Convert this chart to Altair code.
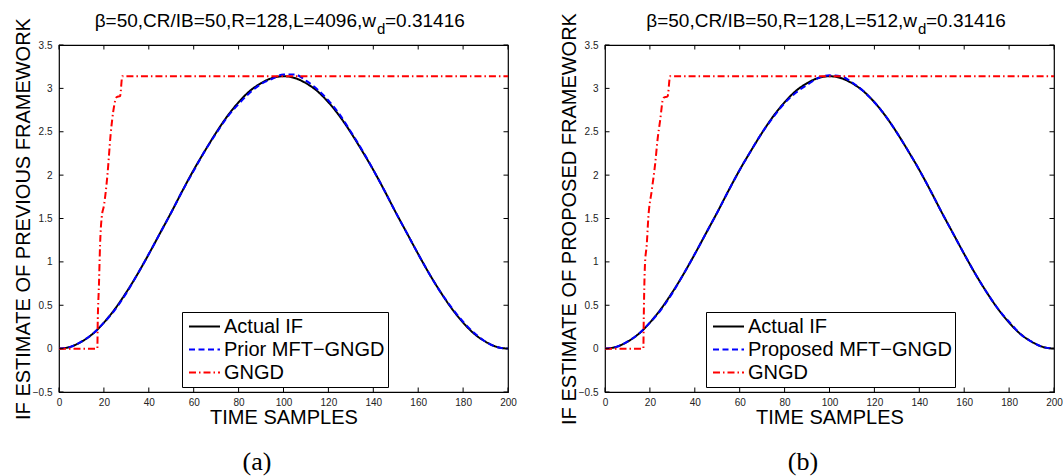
import altair as alt
import pandas as pd

# ---------------- data ----------------
time_grid = [0, 5, 10, 15, 20, 25, 30, 35, 40, 45, 50, 55, 60, 65, 70, 75, 80, 85, 90, 95,
             100, 105, 110, 115, 120, 125, 130, 135, 140, 145, 150, 155, 160, 165, 170, 175,
             180, 185, 190, 195, 200]
actual_if = [0.00, 0.02, 0.08, 0.17, 0.30, 0.46, 0.65, 0.86, 1.09, 1.33, 1.57, 1.82, 2.06,
             2.28, 2.49, 2.68, 2.84, 2.97, 3.06, 3.12, 3.14, 3.12, 3.06, 2.97, 2.84, 2.68,
             2.49, 2.28, 2.06, 1.82, 1.57, 1.33, 1.09, 0.86, 0.65, 0.46, 0.30, 0.17, 0.08,
             0.02, 0.00]
prior_est = [0.00, 0.02, 0.08, 0.17, 0.30, 0.45, 0.64, 0.86, 1.09, 1.33, 1.57, 1.82, 2.05,
             2.28, 2.48, 2.67, 2.82, 2.95, 3.05, 3.11, 3.16, 3.16, 3.09, 2.99, 2.86, 2.70,
             2.50, 2.29, 2.06, 1.82, 1.57, 1.33, 1.09, 0.86, 0.65, 0.47, 0.31, 0.18, 0.08,
             0.02, 0.00]
proposed_est = [0.00, 0.02, 0.08, 0.17, 0.30, 0.45, 0.64, 0.86, 1.09, 1.33, 1.57, 1.82, 2.06,
                2.28, 2.49, 2.67, 2.83, 2.95, 3.04, 3.12, 3.15, 3.14, 3.07, 2.97, 2.84, 2.68,
                2.49, 2.28, 2.06, 1.82, 1.57, 1.33, 1.09, 0.86, 0.65, 0.46, 0.31, 0.17, 0.08,
                0.02, 0.00]
gngd_a_t = [0, 17.1, 17.2, 17.8, 18.3, 19.0, 20.1, 21.6, 23.0, 24.2, 25.7, 27.2, 28.2, 200]
gngd_a_v = [0.00, 0.00, 0.22, 0.74, 1.20, 1.51, 1.66, 2.01, 2.47, 2.74, 2.90, 2.91, 3.14, 3.14]
gngd_b_t = [0, 17.1, 17.2, 17.8, 18.6, 19.3, 20.8, 22.3, 23.5, 24.5, 26.0, 27.9, 29.0, 200]
gngd_b_v = [0.00, 0.00, 0.22, 0.97, 1.20, 1.51, 1.82, 2.12, 2.43, 2.62, 2.89, 2.91, 3.14, 3.14]

x_ticks = [0, 20, 40, 60, 80, 100, 120, 140, 160, 180, 200]
y_ticks = [-0.5, 0, 0.5, 1, 1.5, 2, 2.5, 3, 3.5]

W, H = 449, 347
FONT = "Liberation Sans"
TL = 4.5  # inward tick length (px)


def panel(ytitle, est_name, est_vals, red_t, red_v, title_main, anchor, caption, legend_x):
    names = ["Actual IF", est_name, "GNGD"]
    df = pd.concat([
        pd.DataFrame({"t": time_grid, "v": actual_if, "s": names[0]}),
        pd.DataFrame({"t": time_grid, "v": est_vals, "s": names[1]}),
        pd.DataFrame({"t": red_t, "v": red_v, "s": names[2]}),
    ], ignore_index=True)

    xs = alt.Scale(domain=[0, 200], nice=False, zero=False)
    ys = alt.Scale(domain=[-0.5, 3.5], nice=False, zero=False)

    leg = dict(orient="none", legendX=legend_x, legendY=267, title=None,
               symbolType="stroke", symbolSize=961, symbolStrokeWidth=2,
               clipHeight=23, rowPadding=0, padding=3, symbolOffset=3,
               labelFont=FONT, labelFontSize=20, labelColor="black", labelLimit=500,
               labelOffset=3, strokeColor="black", fillColor="white", cornerRadius=0)

    lines = alt.Chart(df).mark_line(strokeWidth=2, interpolate="monotone").encode(
        x=alt.X("t:Q", scale=xs, axis=alt.Axis(
            values=x_ticks, ticks=False, domain=False, grid=False, labelPadding=5,
            labelFont=FONT, labelFontSize=10, labelColor="#222", labelFlush=False,
            title="TIME SAMPLES", titleFont=FONT, titleFontSize=20,
            titleFontWeight="normal", titleColor="black", titleY=31,
            titleBaseline="alphabetic")),
        y=alt.Y("v:Q", scale=ys, axis=alt.Axis(
            values=y_ticks, ticks=False, domain=False, grid=False, labelPadding=7,
            labelFont=FONT, labelFontSize=10, labelColor="#222", labelFlush=False,
            format="~g", title=ytitle, titleFont=FONT, titleFontSize=20,
            titleFontWeight="normal", titleColor="black", titleX=-30, titleY=H / 2,
            titleAngle=270, titleAlign="center", titleBaseline="alphabetic")),
        color=alt.Color("s:N", scale=alt.Scale(domain=names,
                        range=["#000000", "#0000ff", "#ff0000"]), legend=alt.Legend(**leg)),
        strokeDash=alt.StrokeDash("s:N", scale=alt.Scale(domain=names,
                        range=[[1, 0], [6, 3.5], [7, 3, 1.5, 3]]), legend=alt.Legend(**leg)),
    )

    xt = pd.DataFrame({"t": x_ticks})
    yt = pd.DataFrame({"v": y_ticks})
    tick_style = dict(color="black", strokeWidth=1)
    xb = alt.Chart(xt).mark_rule(**tick_style).encode(
        x=alt.X("t:Q", scale=xs), y=alt.value(H), y2=alt.value(H - TL))
    xtp = alt.Chart(xt).mark_rule(**tick_style).encode(
        x=alt.X("t:Q", scale=xs), y=alt.value(0), y2=alt.value(TL))
    yl = alt.Chart(yt).mark_rule(**tick_style).encode(
        y=alt.Y("v:Q", scale=ys), x=alt.value(0), x2=alt.value(TL))
    yr = alt.Chart(yt).mark_rule(**tick_style).encode(
        y=alt.Y("v:Q", scale=ys), x=alt.value(W), x2=alt.value(W - TL))

    t1 = alt.Chart(pd.DataFrame({"txt": [title_main]})).mark_text(
        align="right", baseline="alphabetic", font=FONT, fontSize=19, color="black"
    ).encode(text="txt:N", x=alt.value(anchor), y=alt.value(-18))
    t2 = alt.Chart(pd.DataFrame({"txt": ["d"]})).mark_text(
        align="left", baseline="alphabetic", font=FONT, fontSize=15, color="black"
    ).encode(text="txt:N", x=alt.value(anchor + 1), y=alt.value(-11))
    t3 = alt.Chart(pd.DataFrame({"txt": ["=0.31416"]})).mark_text(
        align="left", baseline="alphabetic", font=FONT, fontSize=19, color="black"
    ).encode(text="txt:N", x=alt.value(anchor + 9), y=alt.value(-18))
    cap = alt.Chart(pd.DataFrame({"txt": [caption]})).mark_text(
        align="center", baseline="middle", font="Liberation Serif", fontSize=26, color="black"
    ).encode(text="txt:N", x=alt.value(198), y=alt.value(417))

    return alt.layer(lines, xb, xtp, yl, yr, t1, t2, t3, cap).properties(width=W, height=H)


pa = panel("IF ESTIMATE OF PREVIOUS FRAMEWORK", "Prior MFT\u2212GNGD", prior_est,
           gngd_a_t, gngd_a_v, "\u03b2=50,CR/IB=50,R=128,L=4096,w", 317, "(a)", 123)
pb = panel("IF ESTIMATE OF PROPOSED FRAMEWORK", "Proposed MFT\u2212GNGD", proposed_est,
           gngd_b_t, gngd_b_v, "\u03b2=50,CR/IB=50,R=128,L=512,w", 312, "(b)", 101)

chart = alt.hconcat(pa, pb, spacing=41).resolve_scale(
    color="independent", strokeDash="independent"
).resolve_legend(color="independent", strokeDash="independent").properties(
    padding={"left": 12, "top": 11, "right": 0, "bottom": 0}, background="white"
).configure_view(stroke="black", strokeWidth=1.2)

chart.save("out.html", embed_options={"renderer": "svg", "actions": False})
